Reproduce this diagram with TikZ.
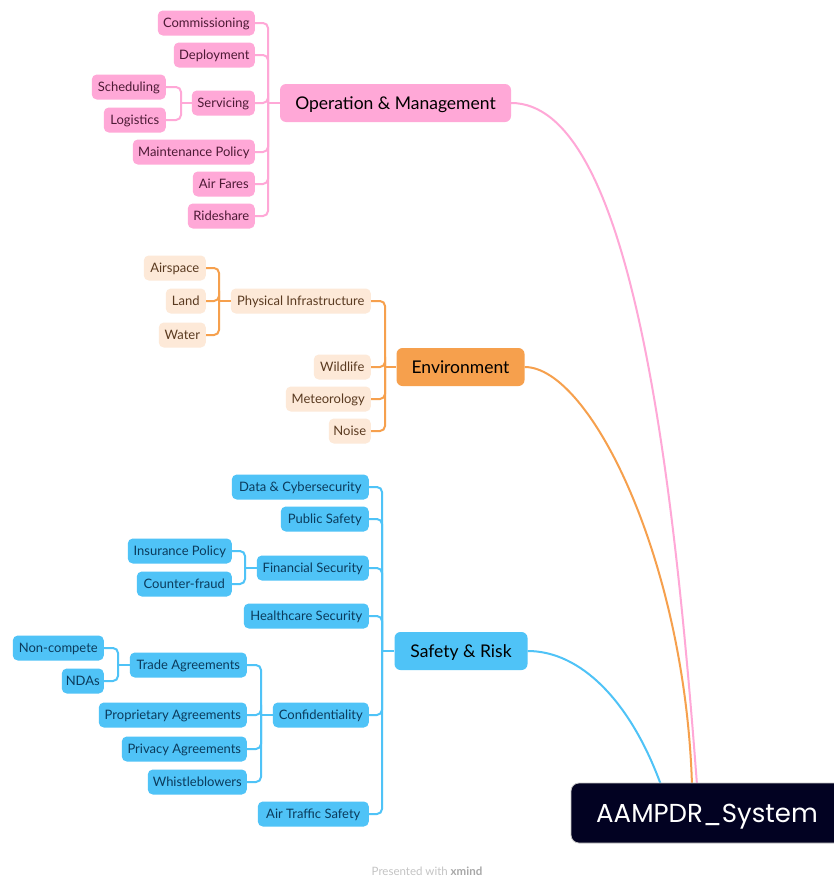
\documentclass[tikz,border=0pt]{standalone}
\usepackage{fontspec}
\setmainfont{Lato}
\newfontfamily\headfont{Poppins}
\definecolor{pinkfill}{HTML}{FFA8D7}
\definecolor{pinktext}{HTML}{4D1A35}
\definecolor{orgmain}{HTML}{F6A04D}
\definecolor{orgfill}{HTML}{FDE9D8}
\definecolor{orgtext}{HTML}{5A3A20}
\definecolor{bluefill}{HTML}{4FC3F7}
\definecolor{bluetext}{HTML}{0B3B5C}
\definecolor{rootfill}{HTML}{020222}
\definecolor{foot}{HTML}{C4C4C4}
\definecolor{footbold}{HTML}{A8A8A8}
\tikzset{
  subbox/.style={rounded corners=5pt, anchor=east, minimum height=25pt,
    inner xsep=4pt, inner ysep=0pt, text height=11.5pt, text depth=2pt,
    font=\fontsize{13pt}{15pt}\selectfont},
  pinksub/.style={subbox, fill=pinkfill, text=pinktext},
  orgsub/.style={subbox, fill=orgfill, text=orgtext},
  bluesub/.style={subbox, fill=bluefill, text=bluetext},
  mainbox/.style={rounded corners=6pt, minimum height=38pt, inner xsep=6pt,
    inner ysep=0pt, text height=15.5pt, text depth=3pt, text=black,
    font=\fontsize{17.5pt}{20pt}\selectfont},
  pinkline/.style={draw=pinkfill, line width=2pt, rounded corners=5pt},
  orgline/.style={draw=orgmain, line width=2pt, rounded corners=5pt},
  blueline/.style={draw=bluefill, line width=2pt, rounded corners=5pt},
}
\begin{document}
\begin{tikzpicture}[x=1pt, y=-1pt]
\useasboundingbox[fill=white] (0,0) rectangle (833,878);

% ---------- Operation & Management ----------
\node[mainbox, fill=pinkfill, minimum width=231pt] (om) at (395.5,103) {Operation \& Management};
\node[pinksub, minimum width=97pt] (com) at (255,23) {Commissioning};
\node[pinksub, minimum width=81pt] (dep) at (255,55) {Deployment};
\node[pinksub, minimum width=63pt] (ser) at (255,103) {Servicing};
\node[pinksub, minimum width=74pt] (sch) at (166,87) {Scheduling};
\node[pinksub, minimum width=62pt] (lgs) at (166,120) {Logistics};
\node[pinksub, minimum width=122pt] (mai) at (255,152) {Maintenance Policy};
\node[pinksub, minimum width=62pt] (afa) at (255,184) {Air Fares};
\node[pinksub, minimum width=67pt] (rid) at (255,216) {Rideshare};
\coordinate (jOM) at (268,103);
\coordinate (jSv) at (181,103);
\foreach \n in {com,dep,ser,mai,afa,rid} \draw[pinkline] (\n.east) -| (jOM);
\draw[pinkline] (jOM) -- (om.west);
\foreach \n in {sch,lgs} \draw[pinkline] (\n.east) -| (jSv);
\draw[pinkline] (jSv) -- (ser.west);

% ---------- Environment ----------
\node[mainbox, fill=orgmain, minimum width=128pt] (env) at (460.5,367) {Environment};
\node[orgsub, minimum width=140pt] (phy) at (371,301) {Physical Infrastructure};
\node[orgsub, minimum width=62pt] (asp) at (206,268) {Airspace};
\node[orgsub, minimum width=40pt] (lnd) at (206,301) {Land};
\node[orgsub, minimum width=47pt] (wat) at (206,335) {Water};
\node[orgsub, minimum width=57pt] (wil) at (371,367) {Wildlife};
\node[orgsub, minimum width=85pt] (met) at (371,399) {Meteorology};
\node[orgsub, minimum width=42pt] (noi) at (371,431) {Noise};
\coordinate (jEn) at (385,367);
\coordinate (jPh) at (219,301);
\foreach \n in {phy,wil,met,noi} \draw[orgline] (\n.east) -| (jEn);
\draw[orgline] (jEn) -- (env.west);
\foreach \n in {asp,lnd,wat} \draw[orgline] (\n.east) -| (jPh);
\draw[orgline] (jPh) -- (phy.west);

% ---------- Safety & Risk ----------
\node[mainbox, fill=bluefill, minimum width=133pt] (sr) at (461,651) {Safety \& Risk};
\node[bluesub, minimum width=137pt] (dat) at (369,487) {Data \& Cybersecurity};
\node[bluesub, minimum width=88pt] (pub) at (369,519) {Public Safety};
\node[bluesub, minimum width=112pt] (fin) at (369,568) {Financial Security};
\node[bluesub, minimum width=104pt] (ins) at (232,551) {Insurance Policy};
\node[bluesub, minimum width=95pt] (ctf) at (232,584) {Counter-fraud};
\node[bluesub, minimum width=125pt] (hea) at (369,616) {Healthcare Security};
\node[bluesub, minimum width=96pt] (con) at (369,715) {Confidentiality};
\node[bluesub, minimum width=117pt] (tra) at (247,665) {Trade Agreements};
\node[bluesub, minimum width=91pt] (ncp) at (104,648) {Non-compete};
\node[bluesub, minimum width=41pt] (nda) at (104,681) {NDAs};
\node[bluesub, minimum width=148pt] (pro) at (247,715) {Proprietary Agreements};
\node[bluesub, minimum width=125pt] (pri) at (247,749) {Privacy Agreements};
\node[bluesub, minimum width=99pt] (whi) at (247,782) {Whistleblowers};
\node[bluesub, minimum width=111pt] (atf) at (369,814) {Air Traffic Safety};
\coordinate (jSR) at (382,651);
\coordinate (jFi) at (245,568);
\coordinate (jTr) at (118,665);
\coordinate (jCo) at (261,715);
\foreach \n in {dat,pub,fin,hea,con,atf} \draw[blueline] (\n.east) -| (jSR);
\draw[blueline] (jSR) -- (sr.west);
\foreach \n in {ins,ctf} \draw[blueline] (\n.east) -| (jFi);
\draw[blueline] (jFi) -- (fin.west);
\foreach \n in {ncp,nda} \draw[blueline] (\n.east) -| (jTr);
\draw[blueline] (jTr) -- (tra.west);
\foreach \n in {tra,pro,pri,whi} \draw[blueline] (\n.east) -| (jCo);
\draw[blueline] (jCo) -- (con.west);

% ---------- links from the main topics down to the root ----------
\coordinate (rP) at (697,785);
\coordinate (rO) at (692,785);
\coordinate (rB) at (661,785);
\draw[draw=pinkfill, line width=2pt] (om.east) .. controls (628,103) and (672,450) .. (rP);
\draw[draw=orgmain, line width=2pt] (env.east) .. controls (590,367) and (685,560) .. (rO);
\draw[draw=bluefill, line width=2pt] (sr.east) .. controls (580,651) and (630,700) .. (rB);

% ---------- root ----------
\node[fill=rootfill, draw=gray!45, line width=0.8pt, rounded corners=8pt,
  minimum width=272pt, minimum height=60pt, inner ysep=0pt, text=white,
  text height=19pt, text depth=0pt,
  font=\headfont\fontsize{26pt}{30pt}\selectfont] (root) at (707,813) {AAMPDR\_System};

% ---------- footer ----------
\node[text=foot, font=\fontsize{11.5pt}{13pt}\selectfont] (foot) at (427,871)
  {Presented with \textcolor{footbold}{\textbf{xmind}}};
\end{tikzpicture}
\end{document}
